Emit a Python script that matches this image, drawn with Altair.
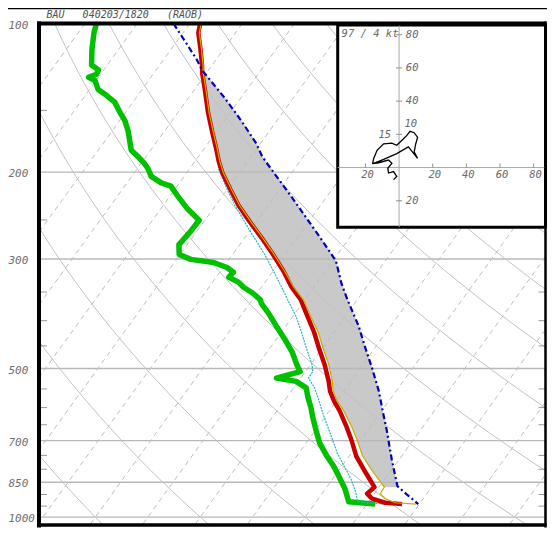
import altair as alt
import numpy as np
import pandas as pd

# ---------------- sounding data (hPa, degC) ----------------
temp_p = [100.0, 104.4, 112.8, 120.8, 126.4, 132.4, 141.7, 151.7, 166.2, 178.0, 190.6, 200.3,
          216.4, 233.8, 252.3, 272.1, 293.7, 316.9, 341.8, 363.3, 391.9, 422.7, 456.2, 492.0,
          530.9, 555.6, 581.5, 608.6, 656.8, 697.7, 753.1, 812.3, 869.6, 896.5, 917.1, 935.3, 941.3]
temp_t = [-78.0, -77.1, -74.4, -72.1, -70.7, -69.0, -66.6, -64.2, -60.7, -58.0, -55.4, -53.3,
          -49.5, -45.6, -41.2, -36.7, -32.3, -28.1, -24.3, -20.7, -17.2, -13.7, -10.5, -7.2,
          -4.2, -2.6, -0.5, 1.9, 5.5, 8.2, 11.4, 15.4, 19.1, 18.6, 20.2, 23.3, 26.7]
virt_t = [-77.8, -76.9, -74.2, -71.9, -70.5, -68.8, -66.4, -64.0, -60.5, -57.8, -55.2, -53.1,
          -49.3, -45.4, -41.0, -36.5, -32.1, -27.9, -23.9, -20.2, -16.6, -12.9, -9.7, -6.4,
          -3.5, -2.0, 0.1, 2.7, 6.5, 9.3, 12.6, 16.9, 21.0, 21.1, 22.7, 25.2, 29.4]

dew_p = [100.0, 104.4, 112.8, 121.4, 124.2, 126.7, 128.5, 130.5, 136.0, 139.8, 144.3, 151.0,
         157.3, 164.9, 180.6, 186.2, 192.0, 196.7, 204.0, 210.3, 213.5, 223.4, 237.4, 250.4,
         264.1, 280.6, 293.7, 300.5, 305.0, 312.1, 319.2, 326.6, 334.1, 341.8, 352.4, 363.3,
         368.9, 386.1, 410.2, 436.0, 463.1, 492.0, 507.3, 523.0, 530.9, 547.3, 572.8, 599.5,
         627.6, 666.7, 708.3, 753.1, 788.1, 825.0, 876.3, 931.0, 941.3]
dew_t = [-97.8, -97.0, -95.1, -93.0, -91.0, -90.8, -91.9, -90.2, -88.4, -86.0, -83.5, -81.2,
         -79.0, -77.0, -73.7, -71.5, -69.4, -68.0, -66.3, -63.5, -61.2, -58.6, -54.9, -51.1,
         -51.2, -51.6, -50.2, -47.3, -42.5, -39.3, -37.4, -37.6, -35.1, -33.5, -30.7, -28.4,
         -27.8, -25.1, -21.8, -18.4, -15.2, -12.5, -11.0, -14.6, -10.4, -7.6, -5.9, -4.0,
         -2.3, 0.1, 2.6, 5.8, 8.4, 10.7, 13.7, 16.2, 21.6]

wetb_p = [100.0, 112.8, 141.7, 178.0, 197.8, 216.4, 233.8, 252.3, 272.1, 293.7, 316.9, 341.8,
          363.3, 391.9, 422.7, 456.2, 492.0, 507.3, 523.0, 547.3, 572.8, 618.0, 666.7, 741.5,
          788.1, 837.3, 889.6, 931.0, 941.3]
wetb_t = [-78.2, -74.6, -66.8, -58.2, -54.3, -50.1, -46.3, -42.2, -38.1, -33.9, -30.0, -26.2,
          -23.2, -19.4, -16.1, -12.9, -9.6, -8.6, -8.5, -6.0, -4.0, -0.8, 2.6, 7.3,
          10.4, 13.5, 16.2, 17.9, 23.0]

parcel_p = [100.0, 107.8, 118.1, 124.6, 129.4, 141.7, 157.6, 175.3, 186.2, 204.0, 226.8, 252.3,
            276.4, 302.8, 336.7, 363.3, 410.2, 449.2, 499.7, 555.6, 618.0, 666.7, 708.3, 764.5,
            825.0, 864.5, 869.6, 903.4, 941.3]
parcel_t = [-83.1, -78.9, -73.8, -71.1, -68.7, -63.0, -56.7, -50.7, -47.8, -42.4, -36.1, -29.9,
            -24.6, -19.4, -15.2, -11.8, -6.1, -2.3, 2.3, 6.7, 10.7, 13.6, 15.8, 18.6,
            21.5, 23.3, 23.7, 26.6, 29.8]
EL_P, LFC_P = 124.6, 869.6

# hodograph (kt)
hodo_u = [-3.3, -1.4, -3.3, -6.3, -6.7, -4.3, -6.3, -12.2, -15.7, -15.1, -13.1, -9.2, -4.3,
          -1.4, 1.6, 4.5, 6.5, 9.0, 11.0, 9.8, 9.0, 11.0, 5.5, -1.4, -9.2, -15.1]
hodo_v = [-7.3, -5.3, -2.4, -3.3, -0.4, 2.5, 4.5, 2.9, 2.5, 5.5, 10.4, 14.3, 14.7,
          13.4, 16.3, 19.2, 21.8, 21.0, 18.2, 13.9, 9.4, 5.5, 12.4, 8.4, 4.9, 2.5]

TITLE = "BAU\u00a0\u00a0\u00a0040203/1820\u00a0\u00a0\u00a0(RAOB)"
HODO_TEXT = "97 / 4 kt"
label_p = [100, 200, 300, 500, 700, 850, 1000]
isobar_p = [200, 300, 500, 700, 850, 1000]
edge_tick_p = [150, 250, 350, 400, 450, 550, 600, 650, 750, 800, 900, 950]
hodo_rings = [-20, 20, 40, 60, 80]
hodo_ring_text = ["20", "20", "40", "60", "80"]
hodo_vlab = [80, 60, 40, -20]
hodo_vlab_text = ["80", "60", "40", "20"]

# ---------------- geometry / style ----------------
SKEW = 68.0
PAD = {"left": 31, "top": 15.5, "right": 1.5, "bottom": 2}
W = 539 - PAD["left"] - PAD["right"]
H = 519.5 - PAD["top"] - PAD["bottom"]
FONT = "DejaVu Sans Mono"
xs = alt.Scale(domain=[-40.755, 55.849], nice=False, zero=False)
ys = alt.Scale(type="log", domain=[100, 1040], reverse=True, nice=False)
us = alt.Scale(domain=[-214.12, 87.06], nice=False, zero=False)
vs = alt.Scale(domain=[-215.59, 86.76], nice=False, zero=False)
SKEW_EXPR = f"datum.t + {SKEW} * log(1000 / datum.p) / LN10"


def prof(p, t):
    return pd.DataFrame({"p": p, "t": t, "i": range(len(p))})


def skew_line(df, detail=False, **mk):
    enc = dict(x=alt.X("X:Q", scale=xs, axis=None),
               y=alt.Y("p:Q", scale=ys, axis=None),
               order=alt.Order("i:Q"))
    if detail:
        enc["detail"] = "g:N"
    return alt.Chart(df).transform_calculate(X=SKEW_EXPR).mark_line(clip=True, **mk).encode(**enc)


# CAPE polygon: virtual temperature upward, parcel downward
tv_df = prof(temp_p, virt_t)
tv_part = tv_df[(tv_df.p >= 126.0) & (tv_df.p <= LFC_P)].sort_values("p", ascending=False)
pc_df = prof(parcel_p, parcel_t)
pc_part = pc_df[(pc_df.p >= EL_P) & (pc_df.p <= LFC_P)].sort_values("p")
cape_df = pd.concat([tv_part[["p", "t"]], pc_part[["p", "t"]]], ignore_index=True)
cape_df["i"] = range(len(cape_df))
cape = skew_line(cape_df, fill="#c9c9c9", stroke="#c9c9c9", strokeWidth=0.5)

# background lines
iso_rows = []
for k, T in enumerate(range(-110, 60, 10)):
    iso_rows += [{"g": k, "p": 100.0, "t": T, "i": 0}, {"g": k, "p": 1040.0, "t": T, "i": 1}]
isotherms = skew_line(pd.DataFrame(iso_rows), detail=True, color="#bdbdbd",
                      strokeWidth=1, strokeDash=[5, 4])

ad_rows = []
pp = np.geomspace(100, 1040, 60)
for k, th in enumerate(range(-30, 240, 20)):
    for j, p in enumerate(pp):
        ad_rows.append({"g": k, "p": p, "t": (th + 273.15) * (p / 1000.0) ** 0.2857 - 273.15, "i": j})
adiabats = skew_line(pd.DataFrame(ad_rows), detail=True, color="#c2c2c2", strokeWidth=1)

isobars = alt.Chart(pd.DataFrame({"p": isobar_p})).mark_rule(color="#b8b8b8", strokeWidth=1.3).encode(
    y=alt.Y("p:Q", scale=ys, axis=None))
plabels = alt.Chart(pd.DataFrame({"p": label_p, "s": [str(v) for v in label_p]})).mark_text(
    align="left", baseline="middle", dy=2, font=FONT, fontStyle="italic", fontSize=11,
    color="#707070").encode(y=alt.Y("p:Q", scale=ys, axis=None), x=alt.value(-30.5), text="s:N")

tick_df = pd.DataFrame({"p": edge_tick_p})
ticks_l = alt.Chart(tick_df).mark_rule(color="#999999", strokeWidth=1).encode(
    y=alt.Y("p:Q", scale=ys, axis=None), x=alt.value(0), x2=alt.value(8))
ticks_r = alt.Chart(tick_df).mark_rule(color="#999999", strokeWidth=1).encode(
    y=alt.Y("p:Q", scale=ys, axis=None), x=alt.value(W - 7), x2=alt.value(W))

dew = skew_line(prof(dew_p, dew_t), color="#00c000", strokeWidth=5.5, strokeJoin="round")
wetb = skew_line(prof(wetb_p, wetb_t), color="#1fb8c8", strokeWidth=1.2, strokeDash=[2, 1])
temp = skew_line(prof(temp_p, temp_t), color="#c80000", strokeWidth=4.5, strokeJoin="round")
virt = skew_line(tv_df, color="#c8b000", strokeWidth=1.2)
parcel = skew_line(prof(parcel_p, parcel_t), color="#0000c0", strokeWidth=2.2,
                   strokeDash=[6, 3, 2, 3])

skew = alt.layer(cape, isobars, isotherms, adiabats, ticks_l, ticks_r, plabels,
                 dew, wetb, temp, virt, parcel)

# ---------------- hodograph inset ----------------
HX = dict(scale=us, axis=None)
HY = dict(scale=vs, axis=None)
box = alt.Chart(pd.DataFrame({"u0": [-36.5], "u1": [87.06], "v0": [-35.9], "v1": [85.9]})).mark_rect(
    fill="white", stroke="black", strokeWidth=3).encode(
    x=alt.X("u0:Q", **HX), x2="u1:Q", y=alt.Y("v0:Q", **HY), y2="v1:Q")
hax = alt.Chart(pd.DataFrame({"u0": [-36.5, 0], "u1": [87.06, 0], "v0": [0, -35.9], "v1": [0, 85.9]})).mark_rule(
    color="#a8a8a8", strokeWidth=1).encode(
    x=alt.X("u0:Q", **HX), x2="u1:Q", y=alt.Y("v0:Q", **HY), y2="v1:Q")
ht_y = alt.Chart(pd.DataFrame({"v": hodo_vlab + [20], "u0": -1.8, "u1": 1.8})).mark_rule(
    color="#909090", strokeWidth=1).encode(
    x=alt.X("u0:Q", **HX), x2="u1:Q", y=alt.Y("v:Q", **HY))
ht_x = alt.Chart(pd.DataFrame({"u": hodo_rings, "v0": 0.0, "v1": 2.4})).mark_rule(
    color="#909090", strokeWidth=1).encode(
    x=alt.X("u:Q", **HX), y=alt.Y("v0:Q", **HY), y2="v1:Q")
trace = alt.Chart(pd.DataFrame({"u": hodo_u, "v": hodo_v, "i": range(len(hodo_u))})).mark_line(
    color="black", strokeWidth=1.3).encode(
    x=alt.X("u:Q", **HX), y=alt.Y("v:Q", **HY), order=alt.Order("i:Q"))

lab_y = pd.DataFrame({"u": [4.0] * len(hodo_vlab), "v": hodo_vlab, "s": hodo_vlab_text})
lab_x = pd.DataFrame({"u": hodo_rings, "v": [0] * len(hodo_rings), "s": hodo_ring_text})
lab_h = pd.DataFrame({"u": [-8.5, 7.0], "v": [19.8, 26.0], "s": ["15", "10"]})
lab_t = pd.DataFrame({"u": [-34.2], "v": [80.3], "s": [HODO_TEXT]})
TXT = dict(font=FONT, fontStyle="italic", fontSize=10.5, color="#6a6a6a")


def htext(df, **mk):
    return alt.Chart(df).mark_text(**TXT, **mk).encode(
        x=alt.X("u:Q", **HX), y=alt.Y("v:Q", **HY), text="s:N")


hodo = alt.layer(box, hax, ht_y, ht_x, trace,
                 htext(lab_y, align="left", baseline="middle"),
                 htext(lab_x, align="center", baseline="top", dx=2, dy=2),
                 htext(lab_h, align="center", baseline="middle"),
                 htext(lab_t, align="left", baseline="middle"))

# ---------------- frame, title ----------------
one = pd.DataFrame({"a": [0]})
fr_l = alt.Chart(one).mark_rule(color="black", strokeWidth=4).encode(
    x=alt.value(0), y=alt.value(-2), y2=alt.value(H + 2))
fr_r = alt.Chart(one).mark_rule(color="black", strokeWidth=2.5).encode(
    x=alt.value(W), y=alt.value(-2), y2=alt.value(H + 2))
fr_t = alt.Chart(one).mark_rule(color="black", strokeWidth=4).encode(
    y=alt.value(0), x=alt.value(-2), x2=alt.value(W + 1))
fr_b = alt.Chart(one).mark_rule(color="black", strokeWidth=3.5).encode(
    y=alt.value(H - 0.5), x=alt.value(-2), x2=alt.value(W + 1))
topline = alt.Chart(one).mark_rule(color="black", strokeWidth=1.3).encode(
    y=alt.value(-15.0), x=alt.value(-31), x2=alt.value(W + 1.5))
title = alt.Chart(pd.DataFrame({"s": [TITLE]})).mark_text(
    align="left", baseline="middle", font=FONT, fontStyle="italic", fontSize=10,
    color="#505050").encode(x=alt.value(7.5), y=alt.value(-8.8), text="s:N")

chart = alt.layer(skew, hodo, fr_l, fr_r, fr_t, fr_b, topline, title).resolve_scale(
    x="independent", y="independent").properties(
    width=W, height=H, autosize="none", padding=PAD).configure_view(stroke=None)

chart.save("out.html", embed_options={"renderer": "svg", "actions": False})
